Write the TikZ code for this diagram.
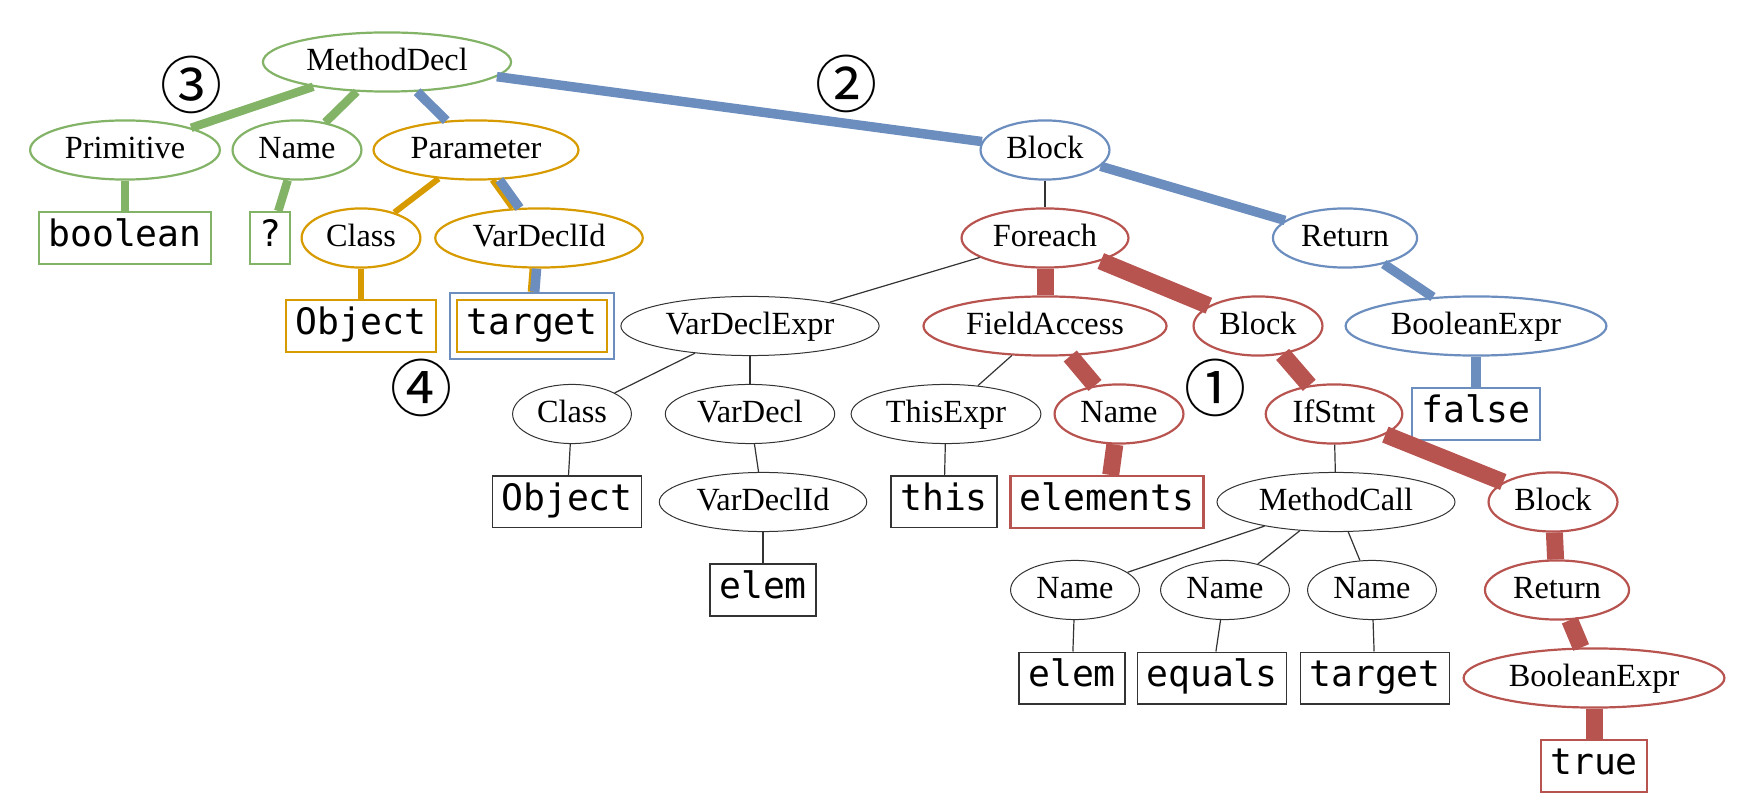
\documentclass[tikz,border=0pt]{standalone}
\usepackage{fontspec}
\setmainfont{Liberation Serif}
\newfontfamily\codefont{DejaVu Sans Mono}
\newfontfamily\markfont{Noto Sans CJK SC}
\usetikzlibrary{shapes.geometric,positioning,fit}
\definecolor{greenC}{HTML}{82B366}
\definecolor{blueC}{HTML}{6C8EBF}
\definecolor{orangeC}{HTML}{D79B00}
\definecolor{redC}{HTML}{B85450}
\begin{document}
\begin{tikzpicture}[node distance=44pt,
	tree node/.style={ellipse,draw=black!80,line width=0.5pt,inner xsep=3.5pt,inner ysep=3.75pt,text height=11pt,text depth=2.4pt,font=\fontsize{16.15}{18}\selectfont},
	green node/.style={tree node,draw=greenC,line width=1.1pt},
	blue node/.style={tree node,draw=blueC,line width=1.1pt},
	orange node/.style={tree node,draw=orangeC,line width=1.1pt},
	red node/.style={tree node,draw=redC,line width=1.1pt},
	leaf/.style={rectangle,draw=black!80,line width=0.7pt,inner xsep=4.5pt,inner ysep=3.35pt,text height=13.8pt,text depth=5.3pt,font=\codefont\fontsize{18.2}{20}\selectfont},
	green leaf/.style={leaf,draw=greenC,line width=1.2pt},
	blue leaf/.style={leaf,draw=blueC,line width=1.2pt},
	orange leaf/.style={leaf,draw=orangeC,line width=1.2pt},
	red leaf/.style={leaf,draw=redC,line width=1.2pt},
	plain edge/.style={draw=black!80,line width=0.6pt},
	green edge/.style={draw=greenC,line width=4.25pt},
	blue edge/.style={draw=blueC,line width=4.75pt},
	orange edge/.style={draw=orangeC,line width=3pt},
	red edge/.style={draw=redC,line width=8.5pt},
	circled/.style={font=\markfont\fontsize{31}{34}\selectfont,inner sep=0pt}]
	\useasboundingbox (0,0) rectangle (875pt,-403pt);

	\node[green node] (MethodDecl) at (193.5pt,-31pt) {MethodDecl};
	\node[green node] (Primitive) [below of=MethodDecl,xshift=-131pt] {Primitive};
	\node[green node] (Name1) [below of=MethodDecl,xshift=-45pt] {Name};
	\node[orange node] (Parameter) [below of=MethodDecl,xshift=44.5pt] {Parameter};
	\node[blue node] (Block1) [below of=MethodDecl,xshift=329pt] {Block};
	\node[green leaf] (boolean) [below of=Primitive] {boolean};
	\node[green leaf] (unknown) [below of=Name1,xshift=-13.5pt] {?};
	\node[orange node] (Class1) [below of=Parameter,xshift=-57.5pt] {Class};
	\node[orange node] (VarDeclId1) [below of=Parameter,xshift=31.5pt] {VarDeclId};
	\node[red node] (Foreach) [below of=Block1] {Foreach};
	\node[blue node] (Return1) [below of=Block1,xshift=150pt] {Return};
	\node[orange leaf] (Object1) [below of=Class1] {Object};
	\node[orange leaf] (target1) [below of=VarDeclId1,xshift=-3.5pt] {target};
	\node[draw=blueC,line width=1.2pt,inner sep=3pt,fit=(target1)] (target1frame) {};
	\node[tree node] (VarDeclExpr) [below of=Foreach,xshift=-147.5pt] {VarDeclExpr};
	\node[red node] (FieldAccess) [below of=Foreach] {FieldAccess};
	\node[red node] (Block2) [below of=Foreach,xshift=106.5pt] {Block};
	\node[blue node] (BooleanExpr1) [below of=Return1,xshift=65.5pt] {BooleanExpr};
	\node[tree node] (Class2) [below of=VarDeclExpr,xshift=-89pt] {Class};
	\node[tree node] (VarDecl) [below of=VarDeclExpr] {VarDecl};
	\node[tree node] (ThisExpr) [below of=FieldAccess,xshift=-49.5pt] {ThisExpr};
	\node[red node] (Name2) [below of=FieldAccess,xshift=37pt] {Name};
	\node[red node] (IfStmt) [below of=Block2,xshift=38pt] {IfStmt};
	\node[blue leaf] (false) [below of=BooleanExpr1] {false};
	\node[leaf] (Object2) [below of=Class2,xshift=-2.5pt] {Object};
	\node[tree node] (VarDeclId2) [below of=VarDecl,xshift=6.5pt] {VarDeclId};
	\node[leaf] (this) [below of=ThisExpr,xshift=-1pt] {this};
	\node[red leaf] (elements) [below of=Name2,xshift=-6pt] {elements};
	\node[tree node] (MethodCall) [below of=IfStmt,xshift=1pt] {MethodCall};
	\node[red node] (Block3) [below of=IfStmt,xshift=109.5pt] {Block};
	\node[leaf] (elem1) [below of=VarDeclId2] {elem};
	\node[tree node] (Name3) [below of=MethodCall,xshift=-130.5pt] {Name};
	\node[tree node] (Name4) [below of=MethodCall,xshift=-55.5pt] {Name};
	\node[tree node] (Name5) [below of=MethodCall,xshift=18pt] {Name};
	\node[red node] (Return2) [below of=Block3,xshift=2pt] {Return};
	\node[leaf] (elem2) [below of=Name3,xshift=-1.5pt] {elem};
	\node[leaf] (equals) [below of=Name4,xshift=-6.5pt] {equals};
	\node[leaf] (target2) [below of=Name5,xshift=1.5pt] {target};
	\node[red node] (BooleanExpr2) [below of=Return2,xshift=18.5pt] {BooleanExpr};
	\node[red leaf] (true) [below of=BooleanExpr2] {true};

	\node[circled] (step1) at (607.5pt,-194pt) {①};
	\node[circled] (step2) at (423pt,-42pt) {②};
	\node[circled] (step3) at (95.5pt,-42.5pt) {③};
	\node[circled] (step4) at (210.5pt,-194pt) {④};

	\path
		(MethodDecl)	edge [green edge]	(Primitive)
						edge [green edge]	(Name1)
						edge [blue edge]	(Parameter)
						edge [blue edge]	(Block1)
		(Primitive)		edge [green edge]	(boolean)
		(Name1)			edge [green edge]	(unknown)
		(Parameter)		edge [orange edge]	(Class1)
						edge [orange edge,transform canvas={xshift=-2.5pt}]	(VarDeclId1)
						edge [blue edge,transform canvas={xshift=1pt}]	(VarDeclId1)
		(Class1)		edge [orange edge]	(Object1)
		(VarDeclId1)	edge [orange edge,transform canvas={xshift=-2pt}]	(target1frame)
						edge [blue edge]	(target1frame)
		(Block1)		edge [plain edge]	(Foreach)
						edge [blue edge]	(Return1)
		(Return1)		edge [blue edge]	(BooleanExpr1)
		(BooleanExpr1)	edge [blue edge]	(false)
		(Foreach)		edge [plain edge]	(VarDeclExpr)
						edge [red edge]		(FieldAccess)
						edge [red edge]		(Block2)
		(VarDeclExpr)	edge [plain edge]	(Class2)
						edge [plain edge]	(VarDecl)
		(Class2)		edge [plain edge]	(Object2)
		(VarDecl)		edge [plain edge]	(VarDeclId2)
		(VarDeclId2)	edge [plain edge]	(elem1)
		(FieldAccess)	edge [plain edge]	(ThisExpr)
						edge [red edge]		(Name2)
		(ThisExpr)		edge [plain edge]	(this)
		(Name2)			edge [red edge]		(elements)
		(Block2)		edge [red edge]		(IfStmt)
		(IfStmt)		edge [plain edge]	(MethodCall)
						edge [red edge]		(Block3)
		(MethodCall)	edge [plain edge]	(Name3)
						edge [plain edge]	(Name4)
						edge [plain edge]	(Name5)
		(Name3)			edge [plain edge]	(elem2)
		(Name4)			edge [plain edge]	(equals)
		(Name5)			edge [plain edge]	(target2)
		(Block3)		edge [red edge]		(Return2)
		(Return2)		edge [red edge]		(BooleanExpr2)
		(BooleanExpr2)	edge [red edge]		(true);
\end{tikzpicture}
\end{document}
